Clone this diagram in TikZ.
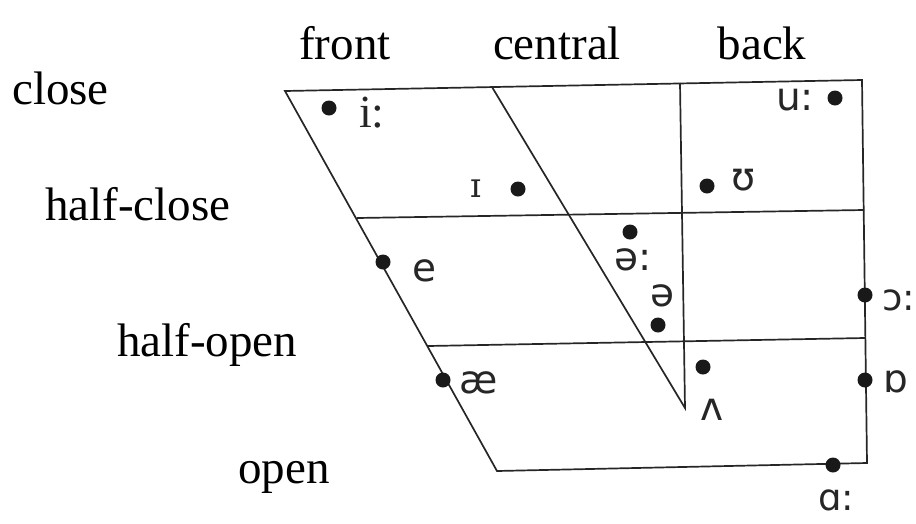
\documentclass[tikz,border=0pt]{standalone}
\usepackage{fontspec}
\setmainfont{Liberation Serif}
\newfontfamily\ipa{DejaVu Sans}
\newfontfamily\ipaserif{DejaVu Serif}
\begin{document}
\begin{tikzpicture}[x=1pt,y=-1pt,
  chart/.style={line width=1.7pt,draw=black!85},
  dot/.style={circle,fill=black!90,minimum size=15pt,inner sep=0pt},
  axis/.style={font=\fontsize{47}{50}\selectfont,inner sep=0pt,anchor=base west},
  colhead/.style={font=\fontsize{47}{50}\selectfont,inner sep=0pt,anchor=base},
  sym/.style={font=\ipa\fontsize{39}{42}\selectfont,inner sep=0pt,text=black!85},
  ssym/.style={font=\fontsize{46}{48}\selectfont,inner sep=0pt,anchor=base west,text=black!85}]
\useasboundingbox (0,0) rectangle (916,523);
% corners
\coordinate (TL) at (285,91);
\coordinate (TR) at (862,80);
\coordinate (BR) at (867,463);
\coordinate (BL) at (497,471);
\coordinate (HCL) at (357,218);
\coordinate (HCR) at (864,210);
\coordinate (HOL) at (428,346);
\coordinate (HOR) at (865,338);
\coordinate (CT) at (492,87);
\coordinate (V) at (685,408);
\coordinate (BT) at (680,83);
% chart lines
\draw[chart,line join=miter] (TL) -- (TR) -- (BR) -- (BL) -- cycle;
\draw[chart] (HCL) -- (HCR);
\draw[chart] (HOL) -- (HOR);
\draw[chart] (CT) -- (V) -- (BT);
% column heads
\node[colhead] (front) at (345,59) {front};
\node[colhead] (central) at (557,59) {central};
\node[colhead] (back) at (762,59) {back};
% row labels
\node[axis] (close) at (12,104) {close};
\node[axis] (halfclose) at (45,220) {half-close};
\node[axis] (halfopen) at (117,356) {half-open};
\node[axis] (open) at (238,483) {open};
% dots
\node[dot] (d1) at (329,108) {};
\node[dot] (d2) at (518,189) {};
\node[dot] (d3) at (835,98) {};
\node[dot] (d4) at (707,186) {};
\node[dot] (d5) at (383,262) {};
\node[dot] (d6) at (630,232) {};
\node[dot] (d7) at (658,325) {};
\node[dot] (d8) at (703,367) {};
\node[dot] (d9) at (865,295) {};
\node[dot] (d10) at (865,380) {};
\node[dot] (d11) at (443,380) {};
\node[dot] (d12) at (833,465) {};
% symbols
\node[ssym] (s1) at (359,127) {i:};
\node[sym,font=\ipaserif\fontsize{34}{36}\selectfont,anchor=base] (s2) at (476,197) {ɪ};
\node[sym] (s3) at (795,100) {u:};
\node[sym] (s4) at (744,180) {ʊ};
\node[sym] (s5) at (424,271) {e};
\node[sym] (s6) at (633,260) {ə:};
\node[sym] (s7) at (662,296) {ə};
\node[sym] (s8) at (712,410) {ʌ};
\node[sym,font=\ipa\fontsize{37}{40}\selectfont] (s9) at (899,300) {ɔ:};
\node[sym] (s10) at (896,382) {ɒ};
\node[sym] (s11) at (479,383) {æ};
\node[sym,font=\ipa\fontsize{37}{40}\selectfont] (s12) at (836,500) {ɑ:};
\end{tikzpicture}
\end{document}
